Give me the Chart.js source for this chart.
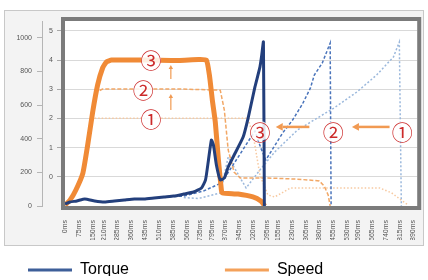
<!DOCTYPE html>
<html>
<head>
<meta charset="utf-8">
<script src="https://cdn.jsdelivr.net/npm/chart.js@4.4.1/dist/chart.umd.min.js"></script>
<style>
  html, body { margin: 0; padding: 0; background: #fff; }
  canvas { display: block; }
</style>
</head>
<body>
<canvas id="chart" width="428" height="280"></canvas>
<script>
// Axis tick values
const timeTicks = [0, 75, 150, 210, 285, 360, 435, 510, 585, 660, 735, 795, 870, 945, 1020, 1095,
  1155, 1230, 1305, 1380, 1455, 1530, 1590, 1665, 1740, 1815, 1890];
const torqueTicks = [0, 200, 400, 600, 800, 1000];
const speedTicks = [0, 1, 2, 3, 4, 5];

// Main run (3)
const torqueMs = [0, 27, 64, 107, 161, 215, 268, 322, 376, 429, 483, 537, 590, 644, 697, 740, 762, 778, 794, 805, 821, 842, 864, 885, 923, 966, 993, 1030, 1057, 1066, 1076, 1081];
const torqueVal = [12, 24, 30, 42, 30, 24, 30, 36, 42, 42, 48, 54, 59, 71, 83, 107, 155, 274, 392, 363, 244, 155, 166, 232, 315, 410, 523, 708, 826, 890, 975, 0];
const speedMs = [0, 27, 59, 97, 123, 150, 177, 204, 225, 252, 461, 617, 724, 767, 783, 799, 815, 832, 848, 853, 939, 1019, 1062, 1084];
const speedVal = [-0.97, -0.8, -0.45, 0.13, 1.09, 2.22, 3.15, 3.73, 3.94, 4.0, 4.0, 3.99, 4.02, 4.0, 3.49, 2.63, 1.88, 0.58, -0.45, -0.55, -0.59, -0.69, -0.83, -1.0];

// Run (2)
const torque2Ms = [537, 644, 751, 848, 939, 1030, 1062, 1089, 1180, 1234, 1288, 1331, 1352, 1395, 1438, 1443];
const torque2Val = [54, 59, 89, 137, 291, 446, 345, 274, 434, 511, 607, 702, 779, 850, 969, 0];
const speed2Ms = [145, 172, 204, 386, 617, 842, 864, 885, 917, 950, 1100, 1261, 1379, 1406, 1427, 1438];
const speed2Val = [2.01, 2.91, 3.01, 3.01, 3.01, 2.97, 2.29, 0.92, 0.16, -0.04, -0.04, -0.08, -0.14, -0.32, -0.62, -1.0];

// Run (1)
const torque1Ms = [644, 724, 842, 885, 982, 1057, 1137, 1261, 1459, 1583, 1690, 1781, 1813, 1824];
const torque1Val = [50, 45, 77, 291, 107, 214, 321, 452, 583, 678, 779, 886, 975, 0];
const speed1Ms = [161, 993, 1025, 1057, 1100, 1137, 1223, 1706, 1771, 1824, 1862];
const speed1Val = [2.01, 2.01, 1.26, 0.06, -0.62, -0.69, -0.38, -0.38, -0.55, -0.8, -0.97];

// Annotations (ms, speed-axis value)
const markLabels = ["③", "②", "①", "③", "②", "①"];
const markMs = [467, 424, 467, 1057, 1454, 1829];
const markVal = [4.04, 3.01, 2.02, 1.57, 1.57, 1.57];
const arrowFromMs = [574, 574, 1325, 1760];
const arrowFromVal = [3.35, 2.29, 1.71, 1.71];
const arrowToMs = [574, 574, 1143, 1556];
const arrowToVal = [3.83, 2.84, 1.71, 1.71];

const points = (xs, ys) => xs.map((x, i) => ({ x, y: ys[i] }));

function drawArrow(ctx, x0, y0, x1, y1, width, head, color) {
  const ang = Math.atan2(y1 - y0, x1 - x0);
  const bx = x1 - Math.cos(ang) * head;
  const by = y1 - Math.sin(ang) * head;
  ctx.strokeStyle = color;
  ctx.fillStyle = color;
  ctx.lineWidth = width;
  ctx.beginPath();
  ctx.moveTo(x0, y0);
  ctx.lineTo(bx, by);
  ctx.stroke();
  ctx.beginPath();
  ctx.moveTo(x1, y1);
  ctx.lineTo(bx + Math.sin(ang) * head * 0.55, by - Math.cos(ang) * head * 0.55);
  ctx.lineTo(bx - Math.sin(ang) * head * 0.55, by + Math.cos(ang) * head * 0.55);
  ctx.closePath();
  ctx.fill();
}

const framePlugin = {
  id: "frame",
  beforeDraw(chart) {
    const { ctx, chartArea: a } = chart;
    ctx.save();
    ctx.fillStyle = "#ffffff";
    ctx.fillRect(0, 0, chart.width, chart.height);
    ctx.fillStyle = "#f3f3f3";
    ctx.fillRect(4, 10, 420, 236);
    ctx.strokeStyle = "#c8c8c8";
    ctx.lineWidth = 1;
    ctx.strokeRect(4.5, 10.5, 419, 235);
    ctx.fillStyle = "#ffffff";
    ctx.fillRect(a.left, a.top, a.right - a.left, a.bottom - a.top);
    ctx.restore();
  },
  afterDatasetsDraw(chart) {
    const { ctx } = chart;
    const { x, y1 } = chart.scales;
    ctx.save();
    arrowFromMs.forEach((m, i) => {
      const thick = i >= 2;
      drawArrow(ctx,
        x.getPixelForValue(m), y1.getPixelForValue(arrowFromVal[i]),
        x.getPixelForValue(arrowToMs[i]), y1.getPixelForValue(arrowToVal[i]),
        thick ? 2.5 : 1.2, thick ? 7 : 4, "#f19a52");
    });
    ctx.font = '21px "Noto Sans CJK JP"';
    ctx.textAlign = "center";
    ctx.textBaseline = "middle";
    markLabels.forEach((t, i) => {
      const px = x.getPixelForValue(markMs[i]);
      const py = y1.getPixelForValue(markVal[i]);
      ctx.fillStyle = "rgba(255,255,255,0.85)";
      ctx.beginPath();
      ctx.arc(px, py, 10, 0, Math.PI * 2);
      ctx.fill();
      ctx.fillStyle = "#cc2a2a";
      ctx.fillText(t, px, py + 1);
    });
    ctx.restore();
  },
  afterDraw(chart) {
    const { ctx, chartArea: a } = chart;
    ctx.save();
    ctx.strokeStyle = "#7b7b7b";
    ctx.lineWidth = 4;
    ctx.strokeRect(a.left - 2, a.top - 2, a.right - a.left + 4, a.bottom - a.top + 4);
    ctx.restore();
  },
};

const tickFont = { family: "Liberation Sans", size: 7 };

new Chart(document.getElementById("chart"), {
  type: "line",
  data: {
    datasets: [
      { label: "Torque", data: points(torqueMs, torqueVal), yAxisID: "y",
        borderColor: "#233f7c", borderWidth: 3, tension: 0.15 },
      { label: "Speed", data: points(speedMs, speedVal), yAxisID: "y1",
        borderColor: "#f08a36", borderWidth: 5, tension: 0.15 },
      { label: "Torque 2", data: points(torque2Ms, torque2Val), yAxisID: "y",
        borderColor: "#4a74bb", borderWidth: 1.5, borderDash: [3, 2] },
      { label: "Speed 2", data: points(speed2Ms, speed2Val), yAxisID: "y1",
        borderColor: "#f2a765", borderWidth: 1.5, borderDash: [4, 2] },
      { label: "Torque 1", data: points(torque1Ms, torque1Val), yAxisID: "y",
        borderColor: "#9bb8dc", borderWidth: 1.5, borderDash: [2, 2] },
      { label: "Speed 1", data: points(speed1Ms, speed1Val), yAxisID: "y1",
        borderColor: "#f7c9a0", borderWidth: 1.5, borderDash: [1.5, 2] },
    ],
  },
  options: {
    responsive: false,
    animation: false,
    layout: { padding: { left: 6, right: 7, top: 21, bottom: 4 } },
    elements: { point: { radius: 0 } },
    plugins: {
      tooltip: { enabled: false },
      legend: {
        position: "bottom",
        align: "start",
        maxHeight: 36,
        labels: {
          usePointStyle: true,
          pointStyleWidth: 44,
          padding: 22,
          color: "#222",
          font: { family: "Liberation Sans", size: 16 },
          generateLabels: () => [
            { text: "Torque", strokeStyle: "#3e5f99", fillStyle: "#3e5f99", lineWidth: 3, pointStyle: "line", hidden: false, datasetIndex: 0 },
            { text: "", strokeStyle: "rgba(0,0,0,0)", fillStyle: "rgba(0,0,0,0)", lineWidth: 1, pointStyle: "line", hidden: false },
            { text: "Speed", strokeStyle: "#f4a15a", fillStyle: "#f4a15a", lineWidth: 3, pointStyle: "line", hidden: false, datasetIndex: 1 },
          ],
        },
      },
    },
    scales: {
      x: {
        type: "linear",
        min: 0,
        max: 1910,
        afterBuildTicks: (s) => { s.ticks = timeTicks.map((v) => ({ value: v })); },
        afterFit: (s) => { s.height = 34; },
        grid: { display: false },
        border: { display: false },
        ticks: {
          autoSkip: false, minRotation: 90, maxRotation: 90, padding: 6,
          font: tickFont, color: "#555",
          callback: (v) => v + "ms",
        },
      },
      y: {
        position: "left",
        weight: 2,
        min: 0,
        max: 1100,
        afterBuildTicks: (s) => { s.ticks = torqueTicks.map((v) => ({ value: v })); },
        afterFit: (s) => { s.width = 36; },
        grid: { drawOnChartArea: false, tickLength: 5, color: "#b5b5b5" },
        border: { color: "#b5b5b5" },
        ticks: { padding: 5, font: tickFont, color: "#555", callback: (v) => String(v) },
      },
      y1: {
        position: "left",
        weight: 1,
        min: -1,
        max: 5.34,
        afterBuildTicks: (s) => { s.ticks = speedTicks.map((v) => ({ value: v })); },
        afterFit: (s) => { s.width = 23; },
        grid: { color: "#d9d9d9", tickLength: 8, tickColor: "#a8a8a8" },
        border: { display: false },
        ticks: { padding: 4, font: tickFont, color: "#555", callback: (v) => String(v) },
      },
    },
  },
  plugins: [framePlugin],
});
</script>
</body>
</html>
